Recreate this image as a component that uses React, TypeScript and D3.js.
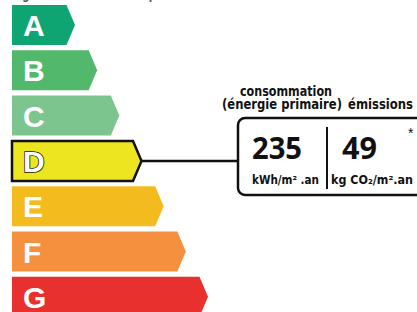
import React from 'react';
import * as d3 from 'd3';

// DPE label data
const CLASSES = ['A', 'B', 'C', 'D', 'E', 'F', 'G'];
const CLASS_COLORS = ['#0fa573', '#52b86c', '#7cc58f', '#eee521', '#f4bb1f', '#f5903f', '#e8312e'];
const CURRENT_CLASS = 'D';
const CONSUMPTION = 235;
const EMISSIONS = 49;
const CONSUMPTION_UNIT = 'kWh/m² .an';
const EMISSIONS_UNIT = 'kg CO₂/m².an';
const TOP_CAPTION = 'logement extrêmement performant';

const W = 417;
const H = 312;

export default function App() {
    const y = d3.scaleBand<string>().domain(CLASSES).range([5, 316.8]).paddingInner(0.117);
    const tipX = d3.scaleLinear().domain([0, CLASSES.length - 1]).range([75, 208]);
    const x0 = 12;
    const depth = 8.5;
    const bh = y.bandwidth();

    const arrowPath = (i: number, top: number) => {
        const tip = tipX(i);
        const p = d3.path();
        p.moveTo(x0, top);
        p.lineTo(tip - depth, top);
        p.lineTo(tip, top + bh / 2);
        p.lineTo(tip - depth, top + bh);
        p.lineTo(x0, top + bh);
        p.closePath();
        return p.toString();
    };

    const ci = CLASSES.indexOf(CURRENT_CLASS);
    const cy = (y(CURRENT_CLASS) ?? 0) + bh / 2;

    // result box
    const box = { x: 238, y: 118, w: 190, h: 77 };
    const divX = 327;
    const numFont = "'Open Sans', 'DejaVu Sans', sans-serif";
    const condFont = "'Liberation Sans Narrow', 'DejaVu Sans Condensed', sans-serif";

    return (
        <svg width={W} height={H} viewBox={`0 0 ${W} ${H}`}
            style={{ position: 'absolute', left: 0, top: 0, background: '#fff' }}>
            {/* caption above, mostly cut off by the frame */}
            <text x={12} y={-1.5} fontFamily={condFont} fontWeight="bold" fontSize={13}
                fill="#555" textLength={201} lengthAdjust="spacingAndGlyphs">{TOP_CAPTION}</text>

            {CLASSES.map((c, i) => {
                const top = y(c) ?? 0;
                const isCur = c === CURRENT_CLASS;
                return (
                    <g key={c}>
                        <path d={arrowPath(i, top)} fill={CLASS_COLORS[i]}
                            stroke={isCur ? '#111' : 'none'} strokeWidth={isCur ? 2.5 : 0}
                            strokeLinejoin="miter" />
                        <text x={23} y={top + bh / 2 + 11} fontFamily="'Liberation Sans', Arial, sans-serif"
                            fontWeight="bold" fontSize={30} fill="#fff"
                            stroke={isCur ? '#111' : 'none'} strokeWidth={isCur ? 1.6 : 0}
                            paintOrder="stroke">{c}</text>
                    </g>
                );
            })}

            {/* connector */}
            <line x1={tipX(ci)} y1={cy} x2={box.x} y2={cy} stroke="#111" strokeWidth={2.5} />

            {/* headers */}
            <text x={286} y={96} textAnchor="middle" fontFamily={condFont} fontWeight="bold"
                fontSize={13.5} fill="#111" textLength={92} lengthAdjust="spacingAndGlyphs">consommation</text>
            <text x={222} y={109} fontFamily={condFont} fontWeight="bold"
                fontSize={13.5} fill="#111" textLength={120} lengthAdjust="spacingAndGlyphs">(énergie primaire)</text>
            <text x={348} y={109} fontFamily={condFont} fontWeight="bold"
                fontSize={13.5} fill="#111" textLength={65} lengthAdjust="spacingAndGlyphs">émissions</text>

            {/* box */}
            <rect x={box.x} y={box.y} width={box.w} height={box.h} rx={7} ry={7}
                fill="#fff" stroke="#111" strokeWidth={2.5} />
            <line x1={divX} y1={127} x2={divX} y2={189} stroke="#111" strokeWidth={2} />

            <text x={252} y={159} fontFamily={numFont} fontWeight="bold" fontSize={30}
                fill="#111" textLength={50} lengthAdjust="spacingAndGlyphs">{CONSUMPTION}</text>
            <text x={342} y={159} fontFamily={numFont} fontWeight="bold" fontSize={30}
                fill="#111" textLength={35} lengthAdjust="spacingAndGlyphs">{EMISSIONS}</text>

            <text x={252} y={184} fontFamily={condFont} fontWeight="bold" fontSize={11.5}
                fill="#111" textLength={67} lengthAdjust="spacingAndGlyphs">{CONSUMPTION_UNIT}</text>
            <text x={331} y={184} fontFamily={condFont} fontWeight="bold" fontSize={11.5}
                fill="#111" textLength={82} lengthAdjust="spacingAndGlyphs">{EMISSIONS_UNIT}</text>

            <text x={408} y={138} fontFamily="'Liberation Sans', Arial, sans-serif" fontSize={14}
                fill="#111">*</text>
        </svg>
    );
}
